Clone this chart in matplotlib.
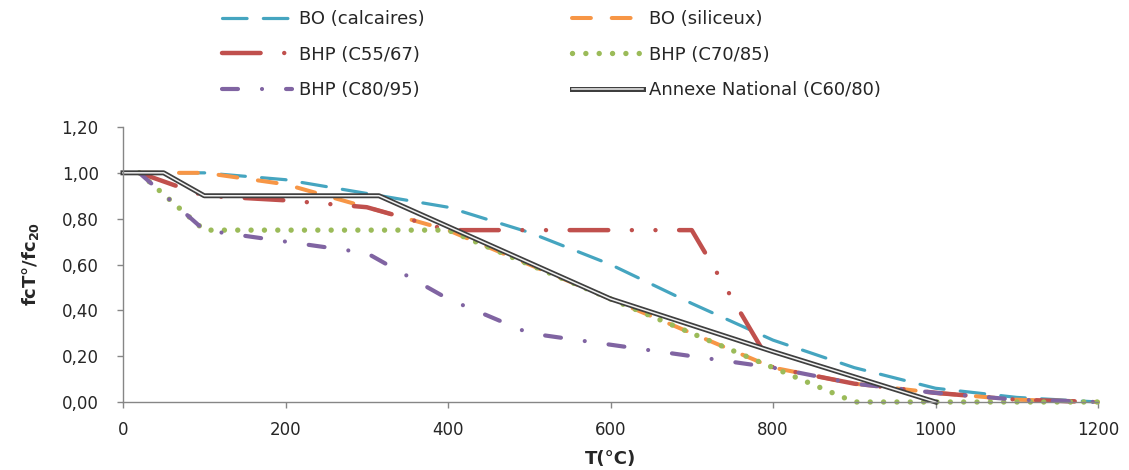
import numpy as np
import matplotlib
matplotlib.use('Agg')
from matplotlib import pyplot as plt
from matplotlib import patheffects as pe
from matplotlib.ticker import FuncFormatter

# temperatures (°C) and relative strength fc(T)/fc20
temps = [20, 100, 200, 300, 400, 500, 600, 700, 800, 900, 1000, 1100, 1200]
bo_calcaires = [1.00, 1.00, 0.97, 0.91, 0.85, 0.74, 0.60, 0.43, 0.27, 0.15, 0.06, 0.02, 0.00]
bo_siliceux = [1.00, 1.00, 0.95, 0.85, 0.75, 0.60, 0.45, 0.30, 0.15, 0.08, 0.04, 0.01, 0.00]
bhp_c55 = [1.00, 0.90, 0.88, 0.85, 0.75, 0.75, 0.75, 0.75, 0.15, 0.08, 0.04, 0.01, 0.00]
bhp_c70 = [1.00, 0.75, 0.75, 0.75, 0.75, 0.60, 0.45, 0.30, 0.15, 0.00, 0.00, 0.00, 0.00]
bhp_c80 = [1.00, 0.75, 0.70, 0.65, 0.45, 0.30, 0.25, 0.20, 0.15, 0.08, 0.04, 0.01, 0.00]
an_temps = [0, 50, 100, 315, 600, 800, 1000]
an_c60 = [1.00, 1.00, 0.90, 0.90, 0.45, 0.22, 0.00]

x_ticks = [0, 200, 400, 600, 800, 1000, 1200]
y_ticks = [0.0, 0.2, 0.4, 0.6, 0.8, 1.0, 1.2]

colors = {
    'blue': '#45A5C0',
    'orange': '#F79646',
    'red': '#C0504D',
    'green': '#9BBB59',
    'purple': '#8064A2',
}

plt.rcParams['font.family'] = ['DejaVu Sans']
plt.rcParams['lines.scale_dashes'] = False

fig = plt.figure(figsize=(11.29, 4.70), dpi=100)
ax = fig.add_axes([123 / 1129, 1 - 402 / 470, 975 / 1129, 275 / 470])

l1, = ax.plot(temps, bo_calcaires, color=colors['blue'], lw=2.3,
              dashes=(17.7, 11.7), dash_capstyle='round', clip_on=False,
              label='BO (calcaires)')
l2, = ax.plot(temps, bo_siliceux, color=colors['orange'], lw=2.9,
              dashes=(13.6, 15.0), dash_capstyle='round', clip_on=False,
              label='BO (siliceux)')
l3, = ax.plot(temps, bhp_c55, color=colors['red'], lw=3.2,
              dashes=(27.8, 17.0, 0.01, 17.0, 0.01, 17.0), dash_capstyle='round',
              clip_on=False, label='BHP (C55/67)')
l4, = ax.plot(temps, bhp_c70, color=colors['green'], lw=3.9,
              dashes=(0.01, 9.6), dash_capstyle='round', clip_on=False,
              label='BHP (C70/85)')
l5, = ax.plot(temps, bhp_c80, color=colors['purple'], lw=3.0,
              dashes=(11.5, 17.3, 0.01, 17.3), dash_capstyle='round',
              clip_on=False, label='BHP (C80/95)')
l6, = ax.plot(an_temps, an_c60, color='#f2f2f2', lw=1.1, clip_on=False,
              label='Annexe National (C60/80)',
              path_effects=[pe.Stroke(linewidth=3.6, foreground='#3f3f3f'), pe.Normal()])

ax.set_xlim(0, 1200)
ax.set_ylim(0, 1.2)
ax.set_xticks(x_ticks)
ax.set_yticks(y_ticks)
ax.yaxis.set_major_formatter(FuncFormatter(lambda v, p: f'{v:.2f}'.replace('.', ',')))

for s in ['top', 'right']:
    ax.spines[s].set_visible(False)
for s in ['left', 'bottom']:
    ax.spines[s].set_color('#868686')
    ax.spines[s].set_linewidth(1.0)
ax.tick_params(axis='both', colors='#868686', length=4.5, width=1.0,
               labelcolor='#262626', labelsize=12)
ax.tick_params(axis='y', pad=13)
ax.tick_params(axis='x', pad=9)

ax.set_xlabel('T(°C)', fontsize=13, fontweight='bold', color='#262626', labelpad=8)
ax.set_ylabel(r'fcT°/fc$_\mathbf{20}$', fontsize=13, fontweight='bold',
              color='#262626', labelpad=15)

handles = [l1, l3, l5, l2, l4, l6]
fig.legend(handles=handles, labels=[h.get_label() for h in handles],
           loc='upper left', bbox_to_anchor=(222 / 1129, 1 - 10 / 470),
           ncol=2, frameon=False, fontsize=13, handlelength=3.9,
           handletextpad=0.35, columnspacing=8.2, labelspacing=0.97,
           borderpad=0, borderaxespad=0, labelcolor='#262626')

fig.savefig('out.png', dpi=100)
